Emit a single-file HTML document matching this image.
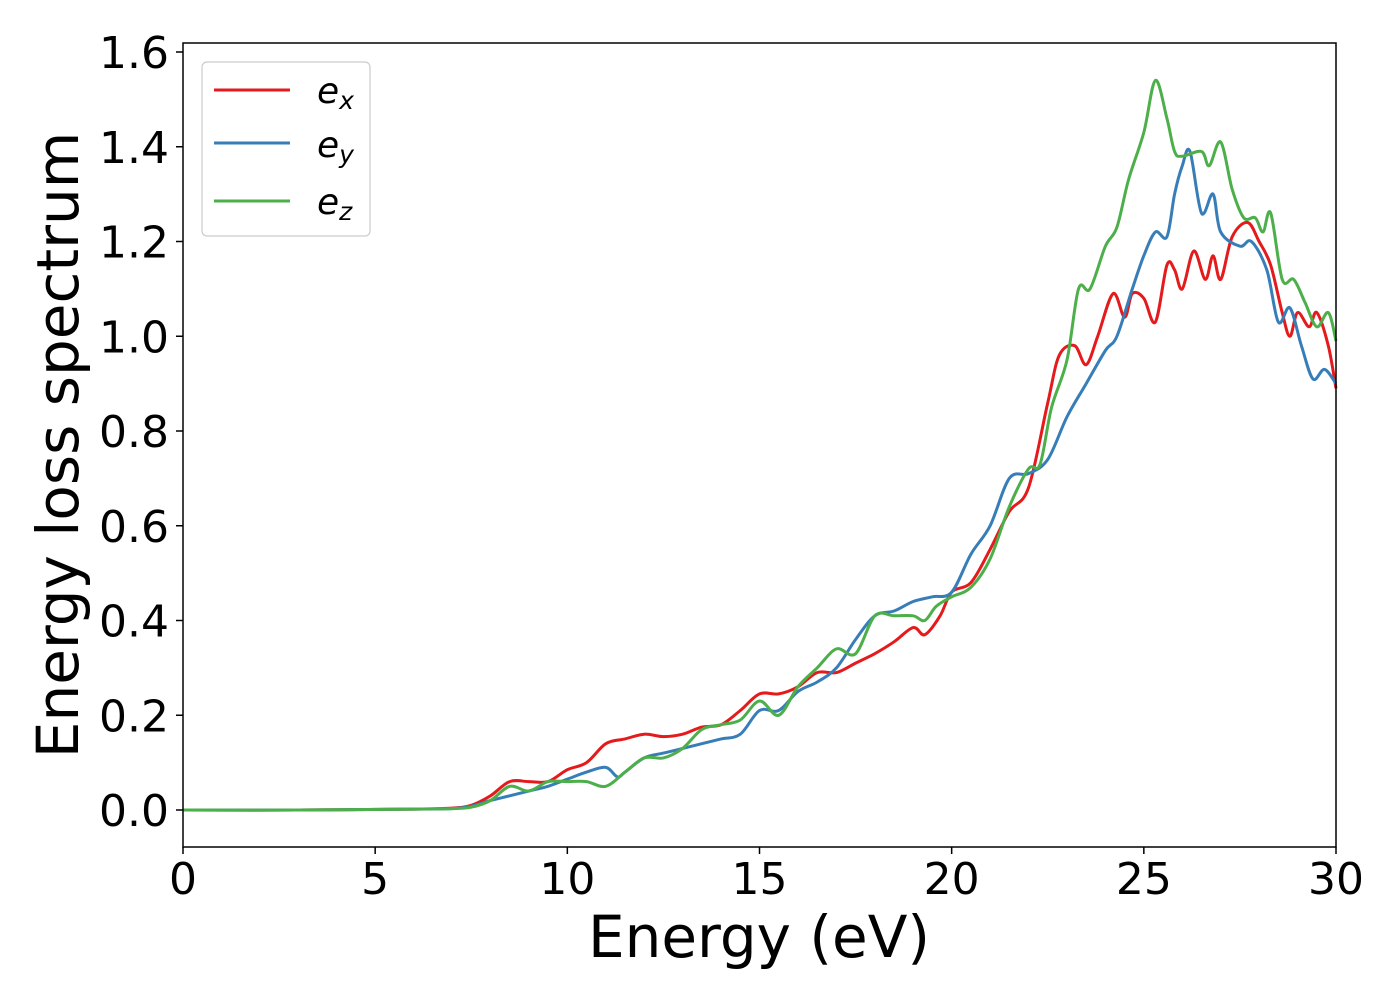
<!DOCTYPE html>
<html><head><meta charset="utf-8"><style>
body{margin:0;background:#fff;}
svg{display:block;font-family:"DejaVu Sans","Liberation Sans",sans-serif;}
</style></head><body>
<svg id="chart" width="1400" height="1000">
<rect x="183" y="43" width="1153" height="804" fill="#fff"/>
<g id="series"></g>
<rect x="183" y="43" width="1153" height="804" fill="none" stroke="#000" stroke-width="1.5"/>
<g id="xticks"></g>
<g id="yticks"></g>
<text x="759" y="957" font-size="58" text-anchor="middle">Energy (eV)</text>
<text transform="translate(78,445) rotate(-90)" font-size="58" text-anchor="middle">Energy loss spectrum</text>
<g>
<rect x="202" y="62" width="168" height="174" rx="5" fill="#fff" stroke="#ccc" stroke-width="1.2"/>
<g><line x1="214" y1="90" x2="290" y2="90" stroke="#e41a1c" stroke-width="3"/><text x="317" y="103" font-size="36" font-style="italic">e<tspan font-size="25" dy="6">x</tspan></text></g>
<g><line x1="214" y1="143" x2="290" y2="143" stroke="#377eb8" stroke-width="3"/><text x="317" y="157" font-size="36" font-style="italic">e<tspan font-size="25" dy="6">y</tspan></text></g>
<g><line x1="214" y1="201" x2="290" y2="201" stroke="#4daf4a" stroke-width="3"/><text x="317" y="214" font-size="36" font-style="italic">e<tspan font-size="25" dy="6">z</tspan></text></g>
</g>
</svg>
<script>
const xTicks=[0,5,10,15,20,25,30];
const yTicks=[0.0,0.2,0.4,0.6,0.8,1.0,1.2,1.4,1.6];
const exE=[0,3,6,7,7.5,8,8.5,9,9.5,10,10.5,11,11.5,12,12.5,13,13.5,14,14.5,15,15.5,16,16.5,17,17.5,18,18.5,19,19.3,19.7,20,20.5,21,21.5,22,22.5,22.8,23.2,23.5,23.8,24.2,24.5,24.7,25,25.3,25.6,25.8,26,26.3,26.6,26.8,27,27.3,27.7,28,28.3,28.6,28.8,29,29.3,29.5,29.8,30];
const exV=[0,0,0.002,0.004,0.01,0.03,0.06,0.06,0.06,0.085,0.1,0.14,0.15,0.16,0.155,0.16,0.175,0.18,0.21,0.245,0.245,0.26,0.29,0.29,0.31,0.33,0.355,0.385,0.37,0.41,0.46,0.48,0.55,0.63,0.68,0.86,0.96,0.98,0.94,1.0,1.09,1.04,1.09,1.08,1.03,1.15,1.14,1.1,1.18,1.12,1.17,1.12,1.21,1.24,1.2,1.15,1.05,1.0,1.05,1.02,1.05,0.98,0.89];
const eyE=[0,3,6,7,7.5,8,8.5,9,9.5,10,10.5,11,11.3,11.5,12,12.5,13,13.5,14,14.5,15,15.5,16,16.5,17,17.5,18,18.5,19,19.5,20,20.5,21,21.5,22,22.5,23,23.5,24,24.3,24.7,25,25.3,25.6,25.8,26,26.2,26.5,26.8,27,27.5,27.8,28.2,28.5,28.8,29.1,29.4,29.7,30];
const eyV=[0,0,0.002,0.003,0.008,0.02,0.03,0.04,0.05,0.065,0.08,0.09,0.07,0.08,0.11,0.12,0.13,0.14,0.15,0.16,0.21,0.21,0.25,0.27,0.3,0.36,0.41,0.42,0.44,0.45,0.46,0.54,0.6,0.7,0.71,0.74,0.83,0.9,0.97,1.0,1.1,1.17,1.22,1.21,1.3,1.36,1.39,1.26,1.3,1.22,1.19,1.2,1.14,1.03,1.06,0.98,0.91,0.93,0.9];
const ezE=[0,3,6,7,7.5,8,8.5,9,9.5,10,10.5,11,11.5,12,12.5,13,13.5,14,14.5,15,15.5,16,16.5,17,17.5,18,18.5,19,19.3,19.6,20,20.5,21,21.5,22,22.3,22.6,23,23.3,23.6,24,24.3,24.6,25,25.3,25.6,25.8,26,26.5,26.7,27,27.3,27.6,27.9,28.1,28.3,28.6,28.9,29.2,29.5,29.8,30];
const ezV=[0,0,0.002,0.003,0.006,0.02,0.05,0.04,0.06,0.06,0.06,0.05,0.08,0.11,0.11,0.13,0.17,0.18,0.19,0.23,0.2,0.26,0.3,0.34,0.33,0.41,0.41,0.41,0.4,0.43,0.45,0.47,0.53,0.64,0.72,0.73,0.85,0.95,1.1,1.1,1.19,1.23,1.33,1.43,1.54,1.46,1.39,1.38,1.39,1.36,1.41,1.31,1.25,1.25,1.22,1.26,1.12,1.12,1.07,1.02,1.05,0.99];
const NS='http://www.w3.org/2000/svg';
const X=v=>183+v*(1153/30);
const Y=v=>810-v*(94.75/0.2);
function path(xs,ys){
  const p=xs.map((x,i)=>[X(x),Y(ys[i])]);
  let d='M'+p[0][0].toFixed(1)+','+p[0][1].toFixed(1);
  for(let i=0;i<p.length-1;i++){
    const p0=p[i-1]||p[i],p1=p[i],p2=p[i+1],p3=p[i+2]||p2;
    const c1=[p1[0]+(p2[0]-p0[0])/6,p1[1]+(p2[1]-p0[1])/6];
    const c2=[p2[0]-(p3[0]-p1[0])/6,p2[1]-(p3[1]-p1[1])/6];
    d+='C'+c1[0].toFixed(1)+','+c1[1].toFixed(1)+' '+c2[0].toFixed(1)+','+c2[1].toFixed(1)+' '+p2[0].toFixed(1)+','+p2[1].toFixed(1);
  }
  return d;
}
const sg=document.getElementById('series');
[[exE,exV,'#e41a1c','line-ex'],[eyE,eyV,'#377eb8','line-ey'],[ezE,ezV,'#4daf4a','line-ez']].forEach(s=>{
  const el=document.createElementNS(NS,'path');
  el.setAttribute('d',path(s[0],s[1]));
  el.setAttribute('fill','none');el.setAttribute('stroke',s[2]);el.setAttribute('stroke-width','3');
  
  
  sg.appendChild(el);
});
const xg=document.getElementById('xticks');
xTicks.forEach(t=>{
  const l=document.createElementNS(NS,'line');
  l.setAttribute('x1',X(t));l.setAttribute('x2',X(t));l.setAttribute('y1',847);l.setAttribute('y2',854);l.setAttribute('stroke','#000');l.setAttribute('stroke-width','1.5');
  
  
  xg.appendChild(l);
  const tx=document.createElementNS(NS,'text');
  tx.setAttribute('x',X(t));tx.setAttribute('y',894);tx.setAttribute('font-size','44');tx.setAttribute('text-anchor','middle');
  tx.textContent=t;
  
  
  xg.appendChild(tx);
});
const yg=document.getElementById('yticks');
yTicks.forEach(t=>{
  const l=document.createElementNS(NS,'line');
  l.setAttribute('x1',176);l.setAttribute('x2',183);l.setAttribute('y1',Y(t));l.setAttribute('y2',Y(t));l.setAttribute('stroke','#000');l.setAttribute('stroke-width','1.5');
  
  
  yg.appendChild(l);
  const tx=document.createElementNS(NS,'text');
  tx.setAttribute('x',169);tx.setAttribute('y',Y(t)+16);tx.setAttribute('font-size','44');tx.setAttribute('text-anchor','end');
  tx.textContent=t.toFixed(1);
  
  
  yg.appendChild(tx);
});
</script>
</body></html>
